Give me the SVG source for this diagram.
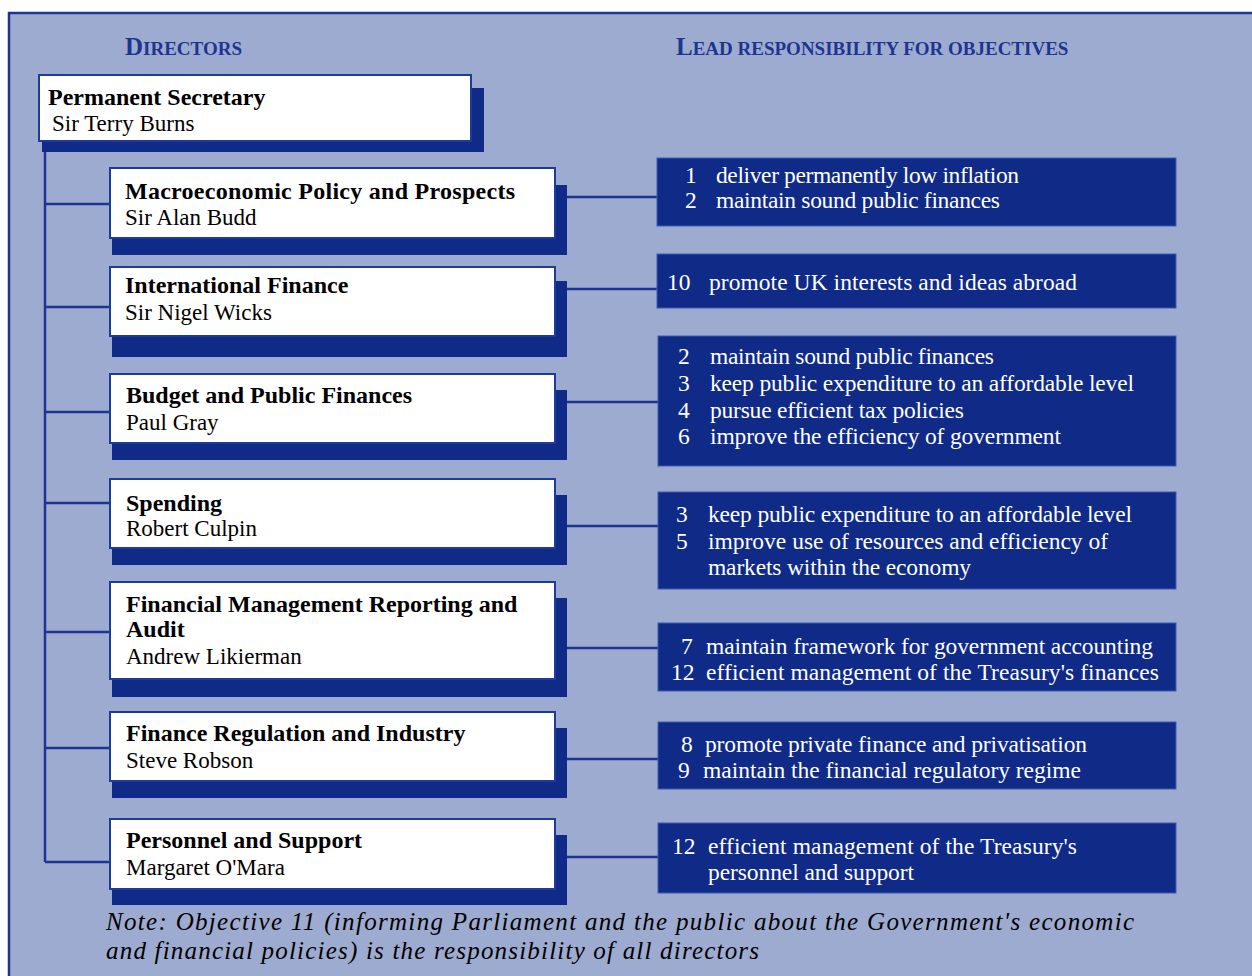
<svg xmlns="http://www.w3.org/2000/svg" width="1252" height="976" viewBox="0 0 1252 976">
  <style>
    .panel { fill: #9eabd0; }
    .frame { stroke: #1c3593; stroke-width: 2.5; fill: none; }
    .shadow { fill: #0f2a87; }
    .card { fill: #ffffff; stroke: #1f3b9a; stroke-width: 2; }
    .obj { fill: #0f2a87; stroke: #3f5aae; stroke-width: 1; }
    .link { stroke: #1c3593; stroke-width: 2.5; fill: none; }
    text { font-family: "Liberation Serif", "Times New Roman", serif; }
    .head { font-size: 25px; font-weight: bold; fill: #1e3590; }
    .sc { font-size: 19px; }
    .title { font-size: 24px; font-weight: bold; fill: #000; }
    .name { font-size: 23px; fill: #000; }
    .otext { font-size: 23.5px; fill: #ffffff; }
    .note { font-size: 25px; font-style: italic; fill: #000; }
  </style>

  <!-- background panel with top and left rule -->
  <rect x="0" y="0" width="1252" height="976" fill="#ffffff"/>
  <rect class="panel" x="8" y="12" width="1244" height="964"/>
  <path class="frame" d="M9,976 V13 H1252"/>

  <!-- column headings -->
  <text class="head" x="125" y="55">D<tspan class="sc">IRECTORS</tspan></text>
  <text class="head" x="676" y="55">L<tspan class="sc">EAD RESPONSIBILITY FOR OBJECTIVES</tspan></text>

  <!-- connectors -->
  <g id="connectors">
    <path class="link" d="M45,141 V862"/>
    <path class="link" d="M45,204 H110"/>
    <path class="link" d="M45,307 H110"/>
    <path class="link" d="M45,412 H110"/>
    <path class="link" d="M45,503 H110"/>
    <path class="link" d="M45,632 H110"/>
    <path class="link" d="M45,748 H110"/>
    <path class="link" d="M45,862 H110"/>
    <path class="link" d="M566,197 H657"/>
    <path class="link" d="M566,289 H657"/>
    <path class="link" d="M566,402 H658"/>
    <path class="link" d="M566,526 H658"/>
    <path class="link" d="M566,648 H658"/>
    <path class="link" d="M566,759 H658"/>
    <path class="link" d="M566,857 H658"/>
  </g>

  <!-- director cards -->
  <g id="permanent-secretary">
    <rect class="shadow" x="42" y="88" width="442" height="64"/>
    <rect class="card" x="39" y="75" width="432" height="66"/>
    <text class="title" x="48" y="105">Permanent Secretary</text>
    <text class="name" x="52" y="131">Sir Terry Burns</text>
  </g>

  <g id="macroeconomic">
    <rect class="shadow" x="112" y="185" width="455" height="70"/>
    <rect class="card" x="110" y="168" width="445" height="70"/>
    <text class="title" x="125" y="199" textLength="390" lengthAdjust="spacing">Macroeconomic Policy and Prospects</text>
    <text class="name" x="125" y="225">Sir Alan Budd</text>
  </g>

  <g id="international-finance">
    <rect class="shadow" x="112" y="281" width="455" height="76"/>
    <rect class="card" x="110" y="267" width="445" height="69"/>
    <text class="title" x="125" y="293">International Finance</text>
    <text class="name" x="125" y="320">Sir Nigel Wicks</text>
  </g>

  <g id="budget">
    <rect class="shadow" x="112" y="390" width="455" height="70"/>
    <rect class="card" x="110" y="374" width="445" height="69"/>
    <text class="title" x="126" y="403">Budget and Public Finances</text>
    <text class="name" x="126" y="430">Paul Gray</text>
  </g>

  <g id="spending">
    <rect class="shadow" x="112" y="495" width="455" height="70"/>
    <rect class="card" x="110" y="479" width="445" height="69"/>
    <text class="title" x="126" y="511">Spending</text>
    <text class="name" x="126" y="536">Robert Culpin</text>
  </g>

  <g id="financial-management">
    <rect class="shadow" x="112" y="598" width="455" height="99"/>
    <rect class="card" x="110" y="582" width="445" height="97"/>
    <text class="title" x="126" y="612">Financial Management Reporting and</text>
    <text class="title" x="126" y="637">Audit</text>
    <text class="name" x="126" y="664">Andrew Likierman</text>
  </g>

  <g id="finance-regulation">
    <rect class="shadow" x="112" y="728" width="455" height="70"/>
    <rect class="card" x="110" y="712" width="445" height="69"/>
    <text class="title" x="126" y="741">Finance Regulation and Industry</text>
    <text class="name" x="126" y="768">Steve Robson</text>
  </g>

  <g id="personnel">
    <rect class="shadow" x="112" y="835" width="455" height="70"/>
    <rect class="card" x="110" y="819" width="445" height="70"/>
    <text class="title" x="126" y="848">Personnel and Support</text>
    <text class="name" x="126" y="875">Margaret O'Mara</text>
  </g>

  <!-- objective panels -->
  <g id="obj-macroeconomic">
    <rect class="obj" x="657" y="158" width="519" height="68"/>
    <text class="otext" x="685" y="183">1</text>
    <text class="otext" x="716" y="183" textLength="303" lengthAdjust="spacing">deliver permanently low inflation</text>
    <text class="otext" x="685" y="208">2</text>
    <text class="otext" x="716" y="208" textLength="284" lengthAdjust="spacing">maintain sound public finances</text>
  </g>

  <g id="obj-international">
    <rect class="obj" x="657" y="254" width="519" height="54"/>
    <text class="otext" x="667" y="290">10</text>
    <text class="otext" x="709" y="290" textLength="368" lengthAdjust="spacing">promote UK interests and ideas abroad</text>
  </g>

  <g id="obj-budget">
    <rect class="obj" x="658" y="336" width="518" height="130"/>
    <text class="otext" x="678" y="364">2</text>
    <text class="otext" x="710" y="364" textLength="284" lengthAdjust="spacing">maintain sound public finances</text>
    <text class="otext" x="678" y="391">3</text>
    <text class="otext" x="710" y="391" textLength="424" lengthAdjust="spacing">keep public expenditure to an affordable level</text>
    <text class="otext" x="678" y="418">4</text>
    <text class="otext" x="710" y="418" textLength="254" lengthAdjust="spacing">pursue efficient tax policies</text>
    <text class="otext" x="678" y="444">6</text>
    <text class="otext" x="710" y="444" textLength="351" lengthAdjust="spacing">improve the efficiency of government</text>
  </g>

  <g id="obj-spending">
    <rect class="obj" x="658" y="492" width="518" height="97"/>
    <text class="otext" x="676" y="522">3</text>
    <text class="otext" x="708" y="522" textLength="424" lengthAdjust="spacing">keep public expenditure to an affordable level</text>
    <text class="otext" x="676" y="549">5</text>
    <text class="otext" x="708" y="549" textLength="400" lengthAdjust="spacing">improve use of resources and efficiency of</text>
    <text class="otext" x="708" y="575" textLength="263" lengthAdjust="spacing">markets within the economy</text>
  </g>

  <g id="obj-financial-management">
    <rect class="obj" x="658" y="623" width="518" height="68"/>
    <text class="otext" x="681" y="654">7</text>
    <text class="otext" x="706" y="654" textLength="447" lengthAdjust="spacing">maintain framework for government accounting</text>
    <text class="otext" x="671" y="680">12</text>
    <text class="otext" x="706" y="680" textLength="453" lengthAdjust="spacing">efficient management of the Treasury's finances</text>
  </g>

  <g id="obj-finance-regulation">
    <rect class="obj" x="658" y="722" width="518" height="67"/>
    <text class="otext" x="681" y="752">8</text>
    <text class="otext" x="705" y="752" textLength="382" lengthAdjust="spacing">promote private finance and privatisation</text>
    <text class="otext" x="678" y="778">9</text>
    <text class="otext" x="703" y="778" textLength="378" lengthAdjust="spacing">maintain the financial regulatory regime</text>
  </g>

  <g id="obj-personnel">
    <rect class="obj" x="658" y="823" width="518" height="70"/>
    <text class="otext" x="672" y="854">12</text>
    <text class="otext" x="708" y="854" textLength="369" lengthAdjust="spacing">efficient management of the Treasury's</text>
    <text class="otext" x="708" y="880" textLength="206" lengthAdjust="spacing">personnel and support</text>
  </g>

  <!-- footnote -->
  <text class="note" x="106" y="930" textLength="1028" lengthAdjust="spacing">Note: Objective 11 (informing Parliament and the public about the Government's economic</text>
  <text class="note" x="106" y="959" textLength="653" lengthAdjust="spacing">and financial policies) is the responsibility of all directors</text>
</svg>
